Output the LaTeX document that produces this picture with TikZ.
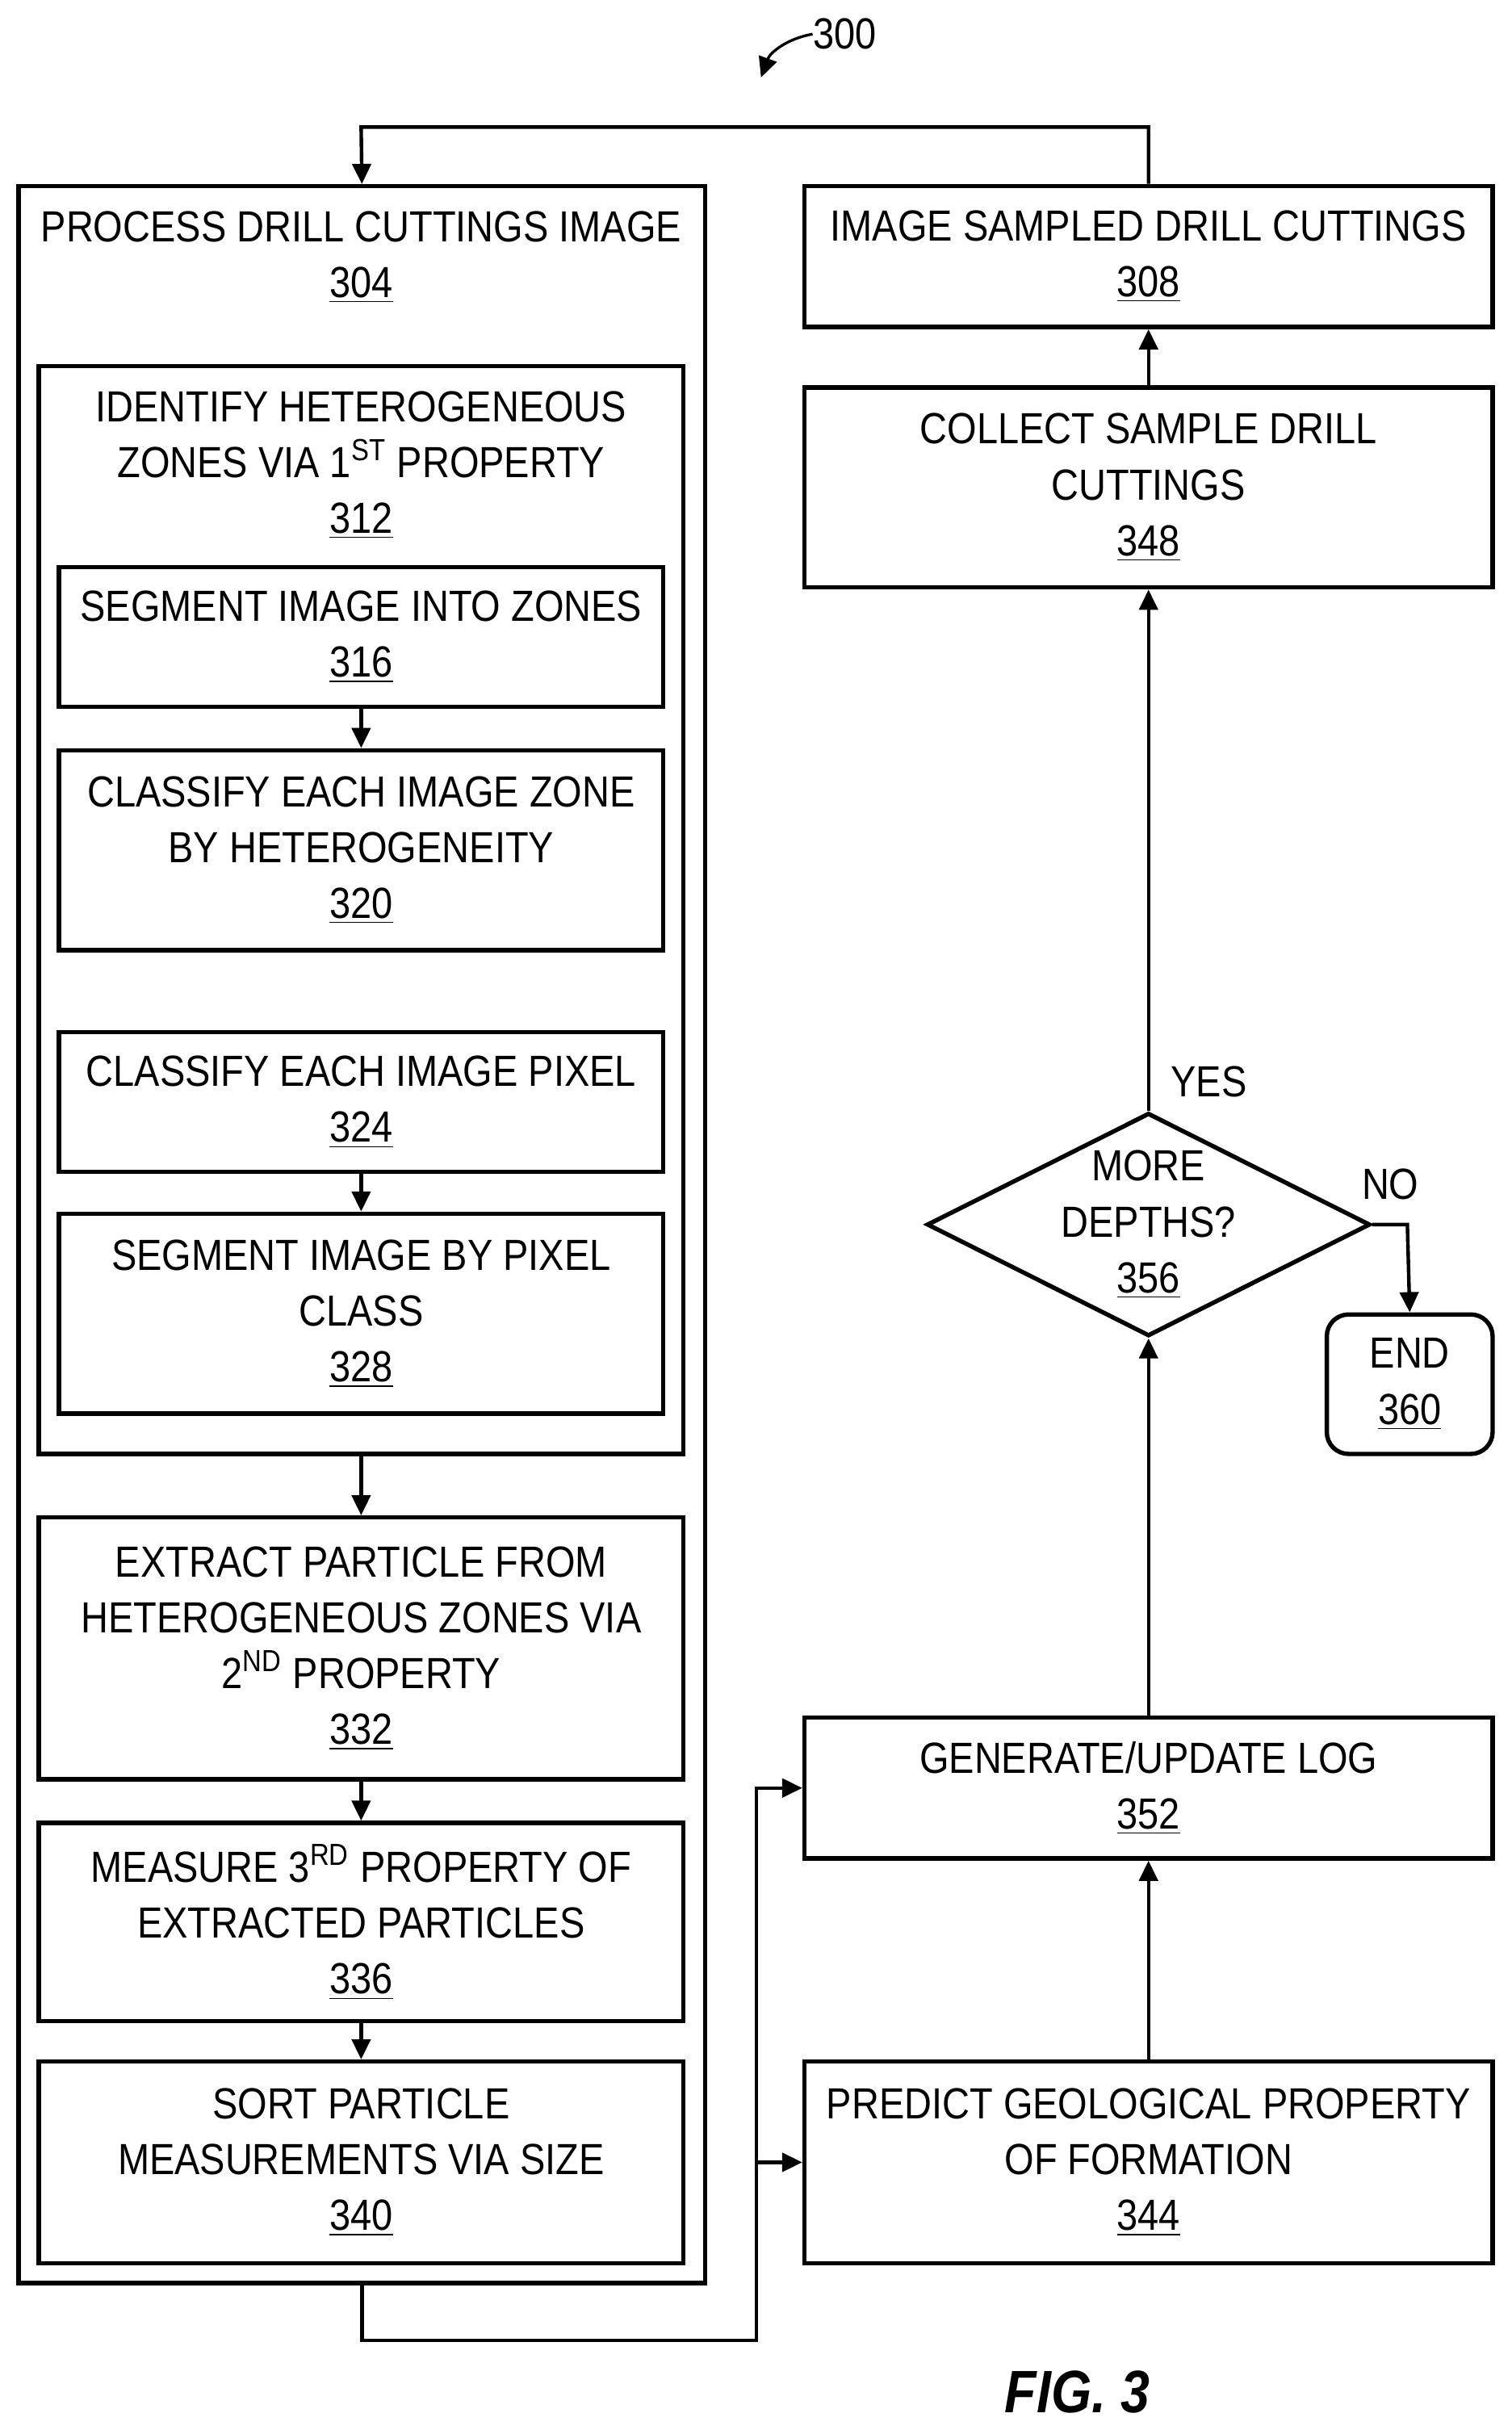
\documentclass[tikz,border=0pt]{standalone}
\usepackage{fontspec}
\setmainfont{Liberation Sans}[FakeStretch=0.87]
\usetikzlibrary{shapes.geometric,arrows.meta}
\tikzset{
  box/.style={draw, line width=1.6pt, align=center, inner sep=0pt},
  txt/.style={align=center, inner sep=0pt},
  arr/.style={line width=1.3pt, -{Triangle[length=2.6mm,width=2.4mm]}},
  ln/.style={line width=1.3pt}
}
\begin{document}
\begin{tikzpicture}[x=0.02cm, y=-0.02cm, font=\fontsize{16}{20.5}\selectfont]
        \useasboundingbox (0,0) rectangle (975,1567.7);

        % Label 300
        \node[txt] (l300) at (545,22) {300};
        \coordinate (a300) at (491,50);
        \draw[arr, line width=1pt] (l300.west) to[bend right=30] (a300);

        % Bloco 304
        \node[box, minimum width=8.86cm, minimum height=27.06cm] (p304) at (233.5,796.5) {};
        \node[txt] (t304) at (233,166) {PROCESS DRILL CUTTINGS IMAGE\\\underline{304}};

        % Bloco 312
        \node[box, minimum width=8.32cm, minimum height=14.04cm] (p312) at (233,587) {};
        \node[txt] (t312) at (233,300) {IDENTIFY HETEROGENEOUS\\ZONES VIA 1\textsuperscript{ST} PROPERTY\\\underline{312}};
        \node[box, minimum width=7.8cm, minimum height=1.8cm] (p316) at (233,411) {SEGMENT IMAGE INTO ZONES\\\underline{316}};
        \node[box, minimum width=7.8cm, minimum height=2.58cm] (p320) at (233,548.5) {CLASSIFY EACH IMAGE ZONE\\BY HETEROGENEITY\\\underline{320}};
        \node[box, minimum width=7.8cm, minimum height=1.8cm] (p324) at (233,711) {CLASSIFY EACH IMAGE PIXEL\\\underline{324}};
        \node[box, minimum width=7.8cm, minimum height=2.58cm] (p328) at (233,847.5) {SEGMENT IMAGE BY PIXEL\\CLASS\\\underline{328}};

        % Blocos 332 a 340
        \node[box, minimum width=8.32cm, minimum height=3.38cm] (p332) at (233,1063.5) {EXTRACT PARTICLE FROM\\HETEROGENEOUS ZONES VIA\\2\textsuperscript{ND} PROPERTY\\\underline{332}};
        \node[box, minimum width=8.32cm, minimum height=2.56cm] (p336) at (233,1240) {MEASURE 3\textsuperscript{RD} PROPERTY OF\\EXTRACTED PARTICLES\\\underline{336}};
        \node[box, minimum width=8.32cm, minimum height=2.6cm] (p340) at (233,1395) {SORT PARTICLE\\MEASUREMENTS VIA SIZE\\\underline{340}};

        % Coluna direita
        \node[box, minimum width=8.88cm, minimum height=1.82cm] (p308) at (741,165.5) {IMAGE SAMPLED DRILL CUTTINGS\\\underline{308}};
        \node[box, minimum width=8.88cm, minimum height=2.58cm] (p348) at (741,314.5) {COLLECT SAMPLE DRILL\\CUTTINGS\\\underline{348}};
        \node[draw, line width=1.6pt, diamond, inner sep=0pt, minimum width=5.72cm, minimum height=2.88cm] (d356) at (741,790) {};
        \node[txt] (t356) at (741,790) {MORE\\DEPTHS?\\\underline{356}};
        \node[box, rounded corners=8pt, minimum width=2.14cm, minimum height=1.8cm] (p360) at (909.5,893) {END\\\underline{360}};
        \node[box, minimum width=8.88cm, minimum height=1.82cm] (p352) at (741,1153.5) {GENERATE/UPDATE LOG\\\underline{352}};
        \node[box, minimum width=8.88cm, minimum height=2.6cm] (p344) at (741,1395) {PREDICT GEOLOGICAL PROPERTY\\OF FORMATION\\\underline{344}};

        % Setas internas
        \draw[arr] (p316) -- (p320);
        \draw[arr] (p324) -- (p328);
        \draw[arr] (p312) -- (p332);
        \draw[arr] (p332) -- (p336);
        \draw[arr] (p336) -- (p340);

        % Laco externo
        \coordinate (c1) at (233,82);
        \coordinate (c2) at (488,1510);
        \coordinate (c3) at (488,1395);
        \coordinate (c4) at (908,790);
        \draw[arr] (p308.north) |- (c1) -- (p304.north);
        \draw[arr] (p304.south) |- (c2) |- (p352.west);
        \draw[arr] (c3) -- (p344.west);
        \draw[arr] (p344) -- (p352);
        \draw[arr] (p352) -- (d356.south);
        \draw[arr] (d356.north) -- (p348);
        \draw[arr] (p348) -- (p308);
        \draw[arr] (d356.east) -- (c4) -- (p360.north);

        % Rotulos
        \node[txt] (yes) at (780,698) {YES};
        \node[txt] (no) at (897,764) {NO};
        \node[txt, font=\fontsize{22}{26}\selectfont\bfseries\itshape] (fig) at (695,1543) {FIG. 3};
      \end{tikzpicture}
\end{document}
